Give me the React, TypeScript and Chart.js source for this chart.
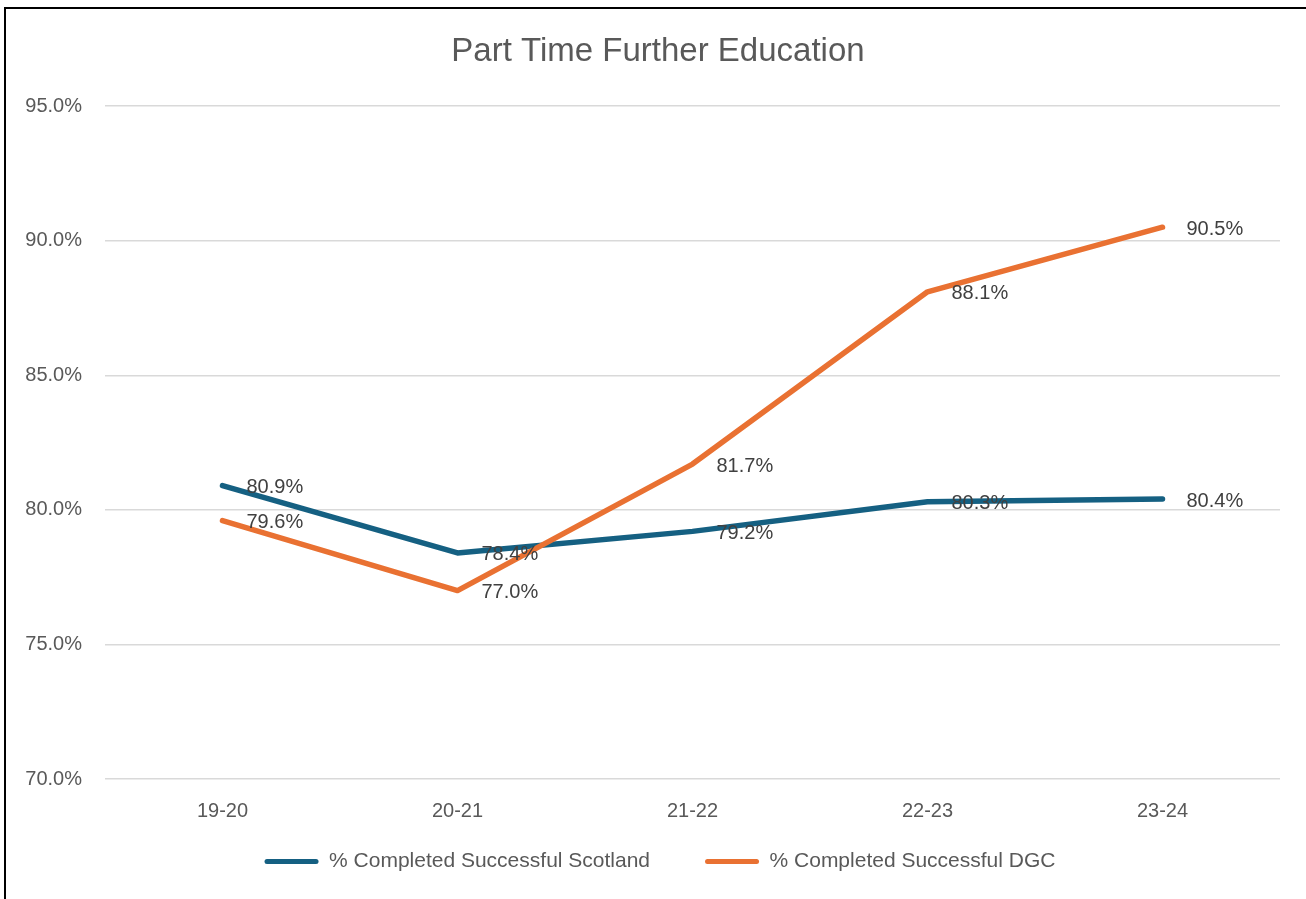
import React, { useEffect, useRef } from "react";
import { Chart, registerables } from "chart.js";

Chart.register(...registerables);

const categories = ["19-20", "20-21", "21-22", "22-23", "23-24"];
const scotlandValues = [80.9, 78.4, 79.2, 80.3, 80.4];
const dgcValues = [79.6, 77.0, 81.7, 88.1, 90.5];
const seriesNames = ["% Completed Successful Scotland", "% Completed Successful DGC"];
const yTicks = [70, 75, 80, 85, 90, 95];

const FONT = "'Liberation Sans', Arial, sans-serif";

const dataLabelPlugin = {
  id: "dataLabels",
  afterDatasetsDraw(chart: any) {
    const ctx = chart.ctx;
    ctx.save();
    ctx.font = `20px ${FONT}`;
    ctx.fillStyle = "#404040";
    ctx.textAlign = "left";
    ctx.textBaseline = "middle";
    chart.data.datasets.forEach((ds: any, i: number) => {
      const meta = chart.getDatasetMeta(i);
      meta.data.forEach((pt: any, j: number) => {
        const v = ds.data[j] as number;
        ctx.fillText(v.toFixed(1) + "%", pt.x + 24, pt.y + 2);
      });
    });
    ctx.restore();
  },
};

// Shift title and legend so they sit where the reference puts them
const placementPlugin = {
  id: "placement",
  afterLayout(chart: any) {
    const lg = chart.legend;
    if (lg) {
      lg.left += 20;
      lg.right += 20;
      lg.top -= 27;
      lg.bottom -= 27;
    }
    const tb = chart.titleBlock;
    if (tb) {
      tb.left += 18;
      tb.right += 18;
    }
  },
};

export default function App() {
  const ref = useRef<HTMLCanvasElement | null>(null);

  useEffect(() => {
    if (!ref.current) return;
    const chart = new Chart(ref.current, {
      type: "line",
      data: {
        labels: categories,
        datasets: [
          {
            label: seriesNames[0],
            data: scotlandValues,
            borderColor: "#156082",
            backgroundColor: "#156082",
            borderWidth: 5.5,
            borderCapStyle: "round",
            borderJoinStyle: "round",
            pointRadius: 0,
            tension: 0,
            fill: false,
            order: 2,
          },
          {
            label: seriesNames[1],
            data: dgcValues,
            borderColor: "#E97132",
            backgroundColor: "#E97132",
            borderWidth: 5.5,
            borderCapStyle: "round",
            borderJoinStyle: "round",
            pointRadius: 0,
            tension: 0,
            fill: false,
            order: 1,
          },
        ],
      },
      options: {
        responsive: false,
        animation: false,
        devicePixelRatio: 1,
        layout: { padding: { left: 0, right: 26, top: 0, bottom: 0 } },
        plugins: {
          title: {
            display: true,
            text: "Part Time Further Education",
            color: "#595959",
            font: { family: FONT, size: 33, weight: "normal" },
            padding: { top: 32, bottom: 34.5 },
          },
          legend: {
            display: true,
            position: "bottom",
            maxHeight: 76,
            labels: {
              color: "#595959",
              font: { family: FONT, size: 21 },
              boxWidth: 54,
              boxHeight: 5,
              padding: 55,
              useBorderRadius: true,
              borderRadius: 2.5,
              sort: (a: any, b: any) => a.datasetIndex - b.datasetIndex,
              generateLabels: (c: any) =>
                Chart.defaults.plugins.legend.labels.generateLabels(c).map((it: any) => ({
                  ...it,
                  lineWidth: 0,
                  fillStyle: it.strokeStyle,
                  borderRadius: 2.5,
                })),
            },
          },
          tooltip: { enabled: false },
        },
        scales: {
          x: {
            offset: true,
            grid: { display: false, drawTicks: false },
            border: { display: false },
            ticks: {
              color: "#595959",
              font: { family: FONT, size: 20, lineHeight: 1.2 },
              padding: 20,
            },
            afterFit: (s: any) => {
              s.height = 44;
            },
          },
          y: {
            min: 70,
            max: 95,
            border: { display: false },
            grid: { color: "#D9D9D9", lineWidth: 1.5, drawTicks: false },
            afterBuildTicks: (s: any) => {
              s.ticks = yTicks.map((v) => ({ value: v }));
            },
            ticks: {
              color: "#595959",
              font: { family: FONT, size: 20 },
              padding: 23,
              callback: (v: any) => Number(v).toFixed(1) + "%",
            },
            afterFit: (s: any) => {
              s.width = 105;
            },
          },
        },
      },
      plugins: [dataLabelPlugin, placementPlugin],
    });
    return () => chart.destroy();
  }, []);

  return (
    <div
      style={{
        position: "fixed",
        left: 0,
        top: 0,
        width: 1306,
        height: 899,
        background: "#fff",
        overflow: "hidden",
      }}
    >
      <canvas
        ref={ref}
        width={1306}
        height={899}
        style={{ position: "absolute", left: 0, top: 0, width: 1306, height: 899 }}
      />
      <div
        style={{
          position: "absolute",
          left: 4,
          top: 7,
          right: -10,
          bottom: -10,
          borderLeft: "2.5px solid #000",
          borderTop: "2.5px solid #000",
          pointerEvents: "none",
        }}
      />
    </div>
  );
}
